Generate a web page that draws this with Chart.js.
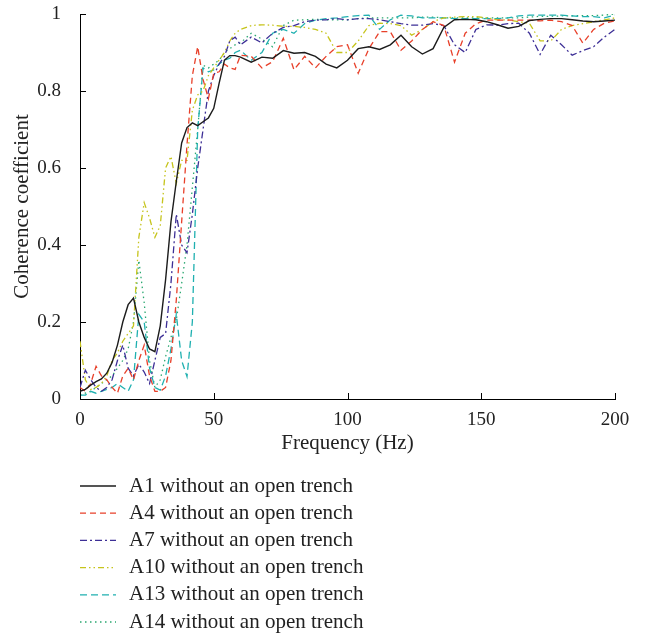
<!DOCTYPE html>
<html>
<head>
<meta charset="utf-8">
<script src="https://cdn.jsdelivr.net/npm/chart.js@4.4.1/dist/chart.umd.min.js"></script>
<style>
  html, body { margin: 0; padding: 0; background: #fff; }
  #wrap { width: 645px; height: 635px; }
</style>
</head>
<body>
<div id="wrap"><canvas id="coherenceChart" width="645" height="635"></canvas></div>
<script>
// frequency samples (Hz)
const freq = [0, 2, 4, 6, 8, 10, 12, 14, 16, 18, 20, 22, 24, 26, 28, 30, 32, 34, 36, 38, 40,
  42, 44, 46, 48, 50, 52, 54, 56, 58, 60,
  64, 68, 72, 76, 80, 84, 88, 92, 96, 100, 104, 108, 112, 116, 120, 124, 128, 132, 136, 140,
  144, 148, 152, 156, 160, 164, 168, 172, 176, 180, 184, 188, 192, 196, 200];

const a1 = [0.02, 0.025, 0.036, 0.045, 0.052, 0.067, 0.095, 0.14, 0.2, 0.245, 0.262, 0.2, 0.16, 0.13, 0.123, 0.19, 0.31, 0.46, 0.565, 0.665, 0.705,
  0.717, 0.71, 0.72, 0.73, 0.755, 0.82, 0.88, 0.892, 0.892, 0.888,
  0.875, 0.888, 0.885, 0.905, 0.898, 0.9, 0.89, 0.87, 0.86, 0.88, 0.91, 0.915, 0.908, 0.92, 0.945, 0.915, 0.896, 0.91, 0.965, 0.985,
  0.986, 0.985, 0.98, 0.972, 0.963, 0.968, 0.983, 0.986, 0.988, 0.988, 0.985, 0.982, 0.98, 0.982, 0.984];

const a4 = [0.03, 0.02, 0.04, 0.085, 0.06, 0.05, 0.03, 0.015, 0.06, 0.08, 0.05, 0.1, 0.14, 0.06, 0.02, 0.02, 0.03, 0.1, 0.257, 0.46, 0.66,
  0.84, 0.915, 0.83, 0.78, 0.846, 0.85, 0.87, 0.86, 0.856, 0.893,
  0.89, 0.86, 0.876, 0.937, 0.855, 0.89, 0.86, 0.89, 0.915, 0.92, 0.846, 0.91, 0.954, 0.954, 0.906, 0.93, 0.96, 0.98, 0.97, 0.875,
  0.95, 0.975, 0.984, 0.984, 0.984, 0.984, 0.984, 0.982, 0.984, 0.98, 0.97, 0.924, 0.96, 0.976, 0.982];

const a7 = [0.03, 0.075, 0.05, 0.03, 0.02, 0.03, 0.05, 0.1, 0.14, 0.08, 0.06, 0.09, 0.07, 0.04, 0.1, 0.16, 0.17, 0.3, 0.48, 0.4, 0.38,
  0.48, 0.6, 0.7, 0.8, 0.84, 0.87, 0.89, 0.93, 0.94, 0.92,
  0.94, 0.925, 0.95, 0.965, 0.97, 0.98, 0.984, 0.985, 0.988, 0.985, 0.988, 0.988, 0.985, 0.98, 0.975, 0.971, 0.971, 0.975, 0.97, 0.92,
  0.9, 0.96, 0.972, 0.971, 0.975, 0.976, 0.95, 0.895, 0.945, 0.92, 0.893, 0.905, 0.915, 0.94, 0.96];

const a10 = [0.15, 0.05, 0.025, 0.03, 0.04, 0.06, 0.1, 0.12, 0.15, 0.17, 0.19, 0.42, 0.51, 0.47, 0.42, 0.45, 0.6, 0.63, 0.56, 0.62, 0.62,
  0.75, 0.79, 0.8, 0.84, 0.86, 0.88, 0.9, 0.93, 0.95, 0.96,
  0.97, 0.972, 0.971, 0.968, 0.968, 0.965, 0.96, 0.95, 0.9, 0.9, 0.93, 0.97, 0.976, 0.975, 0.97, 0.945, 0.96, 0.98, 0.99, 0.992,
  0.993, 0.993, 0.99, 0.985, 0.985, 0.98, 0.976, 0.93, 0.93, 0.96, 0.97, 0.975, 0.98, 0.985, 0.99];

const a13 = [0.01, 0.01, 0.02, 0.015, 0.02, 0.025, 0.03, 0.04, 0.03, 0.02, 0.05, 0.22, 0.2, 0.08, 0.03, 0.023, 0.06, 0.13, 0.22, 0.1, 0.058,
  0.2, 0.7, 0.86, 0.85, 0.855, 0.87, 0.88, 0.885, 0.9, 0.906,
  0.88, 0.9, 0.95, 0.96, 0.95, 0.975, 0.984, 0.988, 0.99, 0.993, 0.996, 0.997, 0.96, 0.985, 0.997, 0.995, 0.99, 0.99, 0.99, 0.988,
  0.988, 0.988, 0.988, 0.988, 0.99, 0.995, 0.997, 0.997, 0.997, 0.997, 0.995, 0.993, 0.993, 0.99, 0.997];

const a14 = [0.01, 0.015, 0.02, 0.03, 0.04, 0.05, 0.06, 0.08, 0.1, 0.13, 0.2, 0.36, 0.25, 0.1, 0.03, 0.05, 0.11, 0.16, 0.205, 0.3, 0.4,
  0.55, 0.7, 0.867, 0.86, 0.87, 0.88, 0.9, 0.91, 0.92, 0.925,
  0.95, 0.935, 0.915, 0.97, 0.984, 0.985, 0.986, 0.985, 0.985, 0.985, 0.988, 0.99, 0.99, 0.99, 0.99, 0.99, 0.992, 0.992, 0.99, 0.99,
  0.99, 0.99, 0.99, 0.99, 0.99, 0.99, 0.992, 0.994, 0.994, 0.995, 0.995, 0.996, 0.996, 0.997, 1.0];

const seriesNames = ["A1 without an open trench", "A4 without an open trench", "A7 without an open trench",
  "A10 without an open trench", "A13 without an open trench", "A14 without an open trench"];
const xTicks = [0, 50, 100, 150, 200];
const yTickLabels = ["0", "0.2", "0.4", "0.6", "0.8", "1"];

const FONT = "'Liberation Serif', 'DejaVu Serif', serif";
Chart.defaults.font.family = FONT;
Chart.defaults.color = "#222";

function pts(ys) {
  return ys.map((y, i) => ({ x: freq[i], y: y }));
}

function line(label, ys, color, dash, width) {
  return {
    label: label,
    data: pts(ys),
    borderColor: color,
    borderWidth: width || 1.3,
    borderDash: dash,
    pointRadius: 0,
    tension: 0,
    fill: false,
  };
}

// ticks pointing into the plot, like the original
const inwardTicks = {
  id: "inwardTicks",
  afterDraw(chart) {
    const { ctx, chartArea, scales } = chart;
    ctx.save();
    ctx.strokeStyle = "#000";
    ctx.lineWidth = 1;
    ctx.beginPath();
    xTicks.forEach((v) => {
      const px = Math.round(scales.x.getPixelForValue(v)) + 0.5;
      ctx.moveTo(px, chartArea.bottom);
      ctx.lineTo(px, chartArea.bottom - 6);
    });
    [0, 0.2, 0.4, 0.6, 0.8, 1].forEach((v) => {
      const py = Math.round(scales.y.getPixelForValue(v)) + 0.5;
      ctx.moveTo(chartArea.left, py);
      ctx.lineTo(chartArea.left + 6, py);
    });
    ctx.stroke();
    ctx.restore();
  },
};

// legend as a single column under the plot
const columnLegend = {
  id: "columnLegend",
  afterDraw(chart) {
    const ctx = chart.ctx;
    ctx.save();
    ctx.font = "21px " + FONT;
    ctx.textBaseline = "middle";
    chart.data.datasets.forEach((ds, i) => {
      const y = 486 + i * 27.2;
      ctx.strokeStyle = ds.borderColor;
      ctx.lineWidth = ds.borderWidth;
      ctx.setLineDash(ds.borderDash || []);
      ctx.beginPath();
      ctx.moveTo(80, y);
      ctx.lineTo(116, y);
      ctx.stroke();
      ctx.setLineDash([]);
      ctx.fillStyle = "#222";
      ctx.fillText(ds.label, 129, y);
    });
    ctx.restore();
  },
};

const ctx = document.getElementById("coherenceChart").getContext("2d");

const chart = new Chart(ctx, {
  type: "line",
  data: {
    datasets: [
      line(seriesNames[0], a1, "#1c1c1c", [], 1.4),
      line(seriesNames[1], a4, "#e8402a", [6, 4]),
      line(seriesNames[2], a7, "#3d2f96", [7, 3, 2, 3]),
      line(seriesNames[3], a10, "#c6c41c", [6, 3, 1.5, 3, 1.5, 3]),
      line(seriesNames[4], a13, "#1fb0b0", [7, 4]),
      line(seriesNames[5], a14, "#2aa870", [1.5, 3.5]),
    ],
  },
  options: {
    responsive: false,
    animation: false,
    layout: { padding: { top: 14, right: 30, bottom: 170, left: 0 } },
    plugins: {
      legend: { display: false },
      tooltip: { enabled: false },
    },
    scales: {
      x: {
        type: "linear",
        min: 0,
        max: 200,
        grid: { display: false },
        border: { display: true, color: "#000", width: 1 },
        ticks: { stepSize: 50, padding: 2, font: { size: 19 }, color: "#222", maxRotation: 0 },
        title: { display: true, text: "Frequency (Hz)", font: { size: 21 }, color: "#222", padding: { top: 0, bottom: 9 } },
        afterFit(scale) { scale.height = 66; },
      },
      y: {
        min: 0,
        max: 1,
        grid: { display: false },
        border: { display: true, color: "#000", width: 1 },
        ticks: {
          stepSize: 0.2,
          padding: 11,
          font: { size: 19 },
          color: "#222",
          callback: (v, i) => yTickLabels[i],
        },
        title: { display: true, text: "Coherence coefficient", font: { size: 21 }, color: "#222", padding: { top: 10, bottom: 0 } },
        afterFit(scale) {
          scale.width = 80;
          scale.paddingTop = 0;
          scale.paddingBottom = 0;
        },
      },
    },
  },
  plugins: [inwardTicks, columnLegend],
});
</script>
</body>
</html>
